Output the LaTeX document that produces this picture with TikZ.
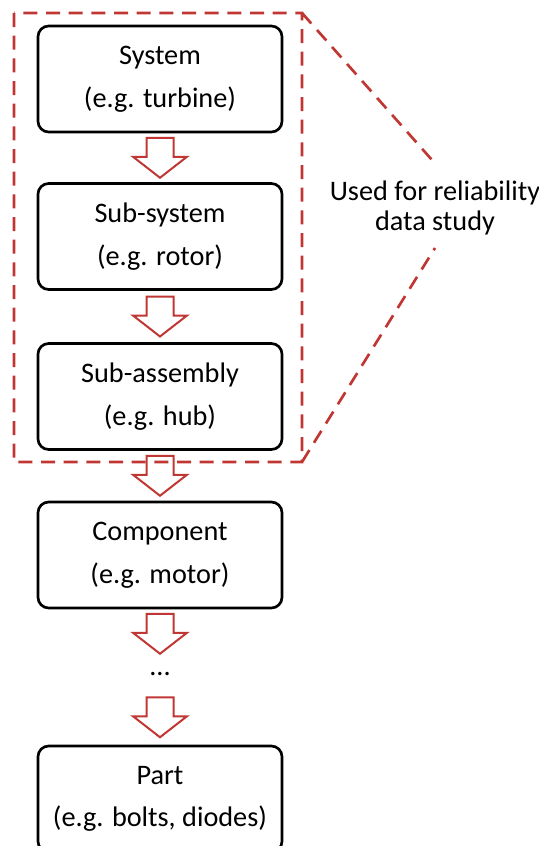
\documentclass[tikz,border=0pt]{standalone}
\usepackage{fontspec}
\setmainfont{Carlito}
\usepackage{tikz}
\usepackage{xcolor}
\usetikzlibrary{positioning,calc,arrows.meta}

\definecolor{studyred}{RGB}{192,54,50}

\tikzset{
  blockarr/.pic={
    \draw[studyred,line width=1.5pt,sharp corners,line join=miter,fill=white]
      (-13.5,-20) -- (13.5,-20) -- (13.5,-1) -- (27,-1) -- (0,20)
      -- (-27,-1) -- (-13.5,-1) -- cycle;
  }
}

\begin{document}
\begin{tikzpicture}[x=0.75pt,y=-0.75pt]
\useasboundingbox (0,0) rectangle (539,846);
      \draw node[align=center,font=\fontsize{21.2}{22.5}\selectfont] (note) at (435,208) {Used for reliability\\data study};
\tikzstyle{every node}=[draw,line width=2pt,rounded corners=8pt,align=center,
  minimum width=183pt,minimum height=79.5pt,font=\fontsize{21.2}{32}\selectfont];

\draw node (v1) at (160,79) {System\\(e.g. turbine)};
\draw node (v2) at (160,236.5) {Sub-system\\(e.g. rotor)};
\draw node (v3) at (160,396.5) {Sub-assembly\\(e.g. hub)};
\draw node (v4) at (160,555) {Component\\(e.g. motor)};
\draw node[draw=none,minimum width=0pt,minimum height=21.75pt] (dots) at (160,674) {...};
\draw node (v5) at (160,799) {Part\\(e.g. bolts, diodes)};

% hollow arrows between levels
\foreach \a/\b in {v1/v2,v2/v3,v3/v4,v4/dots,dots/v5}
  \pic at ($(\a.south)!0.5!(\b.north)$) {blockarr};

% dashed frame round the studied levels
\coordinate (ne) at (302,13);
\coordinate (se) at (302,462);
\coordinate (t1) at (432,160);
\coordinate (t2) at (435,248);
\draw[studyred,line width=2pt,dash pattern=on 10.5pt off 6.5pt]
  (14,13) rectangle (se)
  (ne) -- (t1)
  (se) -- (t2);
\end{tikzpicture}
\end{document}
